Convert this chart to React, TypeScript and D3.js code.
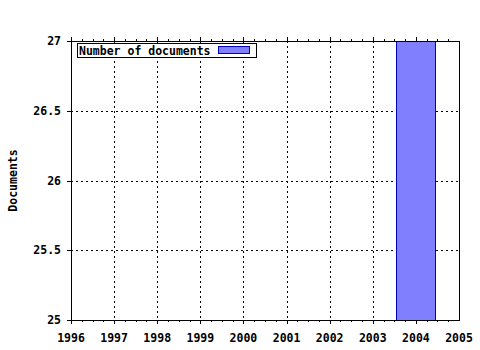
import React from "react";
import * as d3 from "d3";

const years = [2004];
const documents = [27];
const xTicks = [1996, 1997, 1998, 1999, 2000, 2001, 2002, 2003, 2004, 2005];
const yTicks = [25, 25.5, 26, 26.5, 27];
const legendLabel = "Number of documents";
const yLabel = "Documents";

export default function App() {
  const W = 480, H = 350;
  const left = 71, right = 459, top = 41, bottom = 320;
  const x = d3.scaleLinear().domain([1996, 2005]).range([left, right]);
  const y = d3.scaleLinear().domain([25, 27]).range([bottom, top]);
  const font = "'DejaVu Sans Mono', monospace";
  const minorX: number[] = [];
  for (let v = 1996; v < 2005; v += 0.25) minorX.push(v);
  const minorY: number[] = [];
  for (let v = 25; v < 27; v += 0.1) minorY.push(+v.toFixed(2));
  const barW = 0.9;
  return (
    <svg width={W} height={H} style={{ position: "absolute", left: 0, top: 0, background: "#fff" }}>
      <rect x={0} y={0} width={W} height={H} fill="#fff" />
      {/* grid */}
      {xTicks.slice(1, -1).map((t) => (
        <line key={"gx" + t} x1={Math.round(x(t)) + 0.5} x2={Math.round(x(t)) + 0.5} y1={top} y2={bottom}
          stroke="#000" strokeDasharray="2,3" shapeRendering="crispEdges" />
      ))}
      {yTicks.slice(1, -1).map((t) => (
        <line key={"gy" + t} x1={left} x2={right} y1={Math.round(y(t)) + 0.5} y2={Math.round(y(t)) + 0.5}
          stroke="#000" strokeDasharray="2,3" shapeRendering="crispEdges" />
      ))}
      {/* bars */}
      {years.map((yr, i) => (
        <rect key={yr} x={Math.round(x(yr - barW / 2)) + 0.5} y={Math.round(y(Math.min(documents[i], 27))) + 0.5}
          width={Math.round(x(yr + barW / 2)) - Math.round(x(yr - barW / 2))}
          height={Math.round(y(25)) - Math.round(y(Math.min(documents[i], 27)))}
          fill="#8080ff" stroke="#0000cc" shapeRendering="crispEdges" />
      ))}
      {/* axes frame */}
      <rect x={left + 0.5} y={top + 0.5} width={right - left} height={bottom - top} fill="none" stroke="#000" shapeRendering="crispEdges" />
      {/* x ticks */}
      {minorX.map((t, i) => {
        const px = Math.round(x(t)) + 0.5;
        const major = i % 4 === 0;
        return (
          <g key={"tx" + i}>
            <line x1={px} x2={px} y1={bottom} y2={bottom + (major ? 4 : 2)} stroke="#000" shapeRendering="crispEdges" />
            <line x1={px} x2={px} y1={top + 1} y2={top - (major ? 4 : 2)} stroke="#000" shapeRendering="crispEdges" />
          </g>
        );
      })}
      {/* y ticks */}
      {yTicks.map((t) => (
        <line key={"ty" + t} x1={left - 4} x2={left} y1={Math.round(y(t)) + 0.5} y2={Math.round(y(t)) + 0.5} stroke="#000" shapeRendering="crispEdges" />
      ))}
      {/* labels */}
      {xTicks.map((t) => (
        <text key={"lx" + t} x={x(t)} y={342} textAnchor="middle" fontFamily={font} fontWeight="bold" fontSize={11.5} fill="#000">{t}</text>
      ))}
      {yTicks.map((t) => (
        <text key={"ly" + t} x={61} y={y(t) + 4} textAnchor="end" fontFamily={font} fontWeight="bold" fontSize={11.5} fill="#000">{t}</text>
      ))}
      <text transform={`translate(17,${(top + bottom) / 2}) rotate(-90)`} textAnchor="middle" fontFamily={font} fontWeight="bold" fontSize={11.5} fill="#000">{yLabel}</text>
      {/* legend */}
      <rect x={77.5} y={43.5} width={179} height={14} fill="#fff" stroke="#000" shapeRendering="crispEdges" />
      <text x={79} y={54.5} fontFamily={font} fontWeight="bold" fontSize={11.5} fill="#000">{legendLabel}</text>
      <rect x={218.5} y={46.5} width={31} height={7} fill="#8080ff" stroke="#0000cc" shapeRendering="crispEdges" />
    </svg>
  );
}
